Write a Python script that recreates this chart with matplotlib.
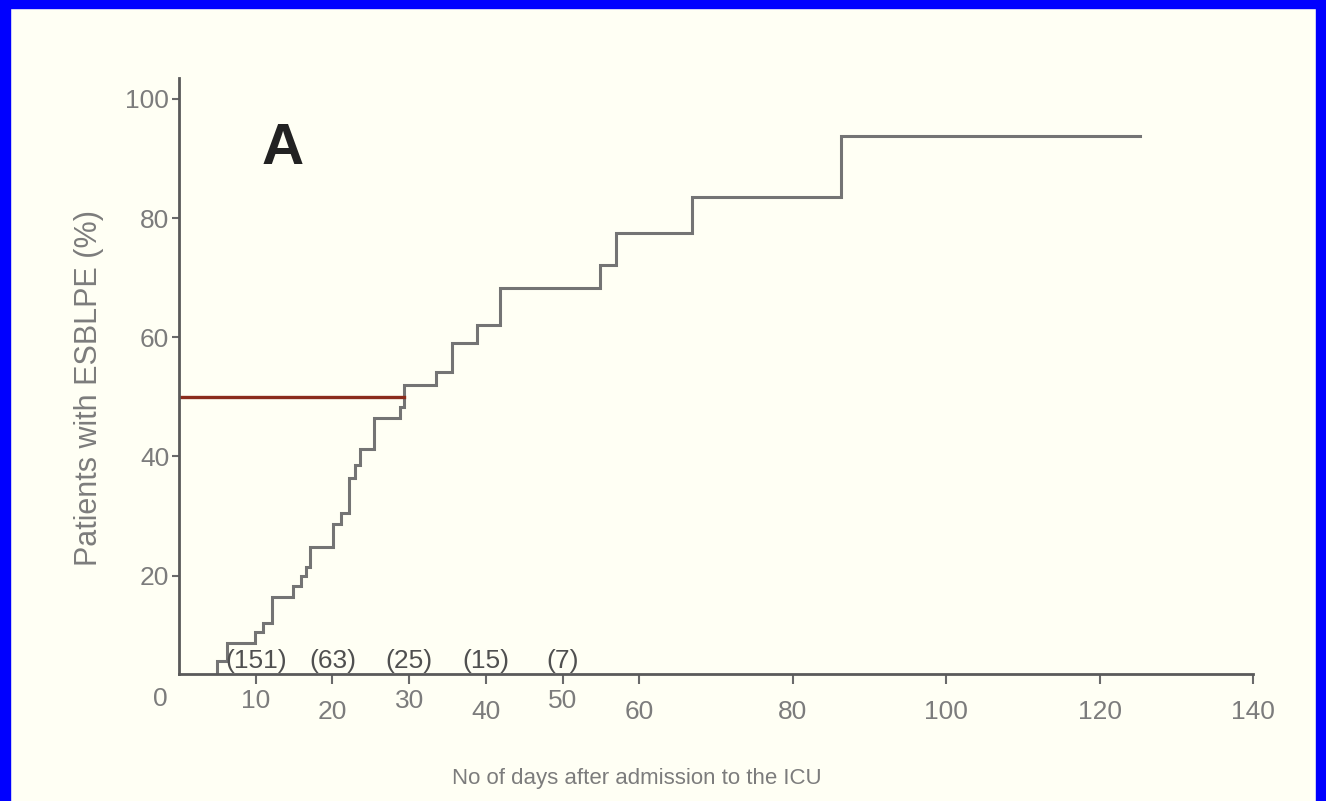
import matplotlib
matplotlib.use("Agg")
import matplotlib.pyplot as plt
from matplotlib.patches import Rectangle

plt.rcParams['font.family'] = ['Liberation Sans', 'DejaVu Sans']

# cumulative % of patients with ESBLPE, stepping up at these days
step_days = [0, 4.95, 6.3, 9.9, 11.0, 12.1, 14.9, 15.9, 16.6, 17.1, 20.1, 21.1,
             22.2, 22.9, 23.6, 25.4, 28.8, 29.3, 33.5, 35.6, 38.9, 41.9, 54.9,
             57.0, 66.9, 86.3, 125.2]
step_pct = [0, 5.7, 8.7, 10.6, 12.1, 16.4, 18.3, 20.0, 21.5, 24.8, 28.6, 30.5,
            36.4, 38.6, 41.3, 46.5, 48.3, 52.0, 54.2, 59.1, 62.1, 68.3, 72.1,
            77.5, 83.5, 93.8, 93.8]

# day at which half of the patients were colonised
median_day = 29.3
median_pct = 50

# patients still at risk
risk_days = [10, 20, 30, 40, 50]
risk_n = ['(151)', '(63)', '(25)', '(15)', '(7)']

x_major = [20, 40, 60, 80, 100, 120, 140]
x_minor = [10, 30, 50]
y_ticks = [20, 40, 60, 80, 100]

bg = '#fffff4'
grey = '#7c7c7c'

fig = plt.figure(figsize=(13.26, 8.01), dpi=100, facecolor=bg)
ax = fig.add_axes([0.1350, 0.1586, 0.8100, 0.7441], facecolor=bg)

ax.plot(step_days, step_pct, drawstyle='steps-post', color='#747474', lw=2.2,
        solid_joinstyle='miter')
ax.plot([0, median_day], [median_pct, median_pct], color='#8b2c1c', lw=2.4)

ax.set_xlim(0, 140)
ax.set_ylim(3.5, 103.5)

for s in ['top', 'right']:
    ax.spines[s].set_visible(False)
for s in ['left', 'bottom']:
    ax.spines[s].set_color('#5a5a5a')
    ax.spines[s].set_linewidth(2)

ax.set_xticks(x_major)
ax.set_xticks(x_minor, minor=True)
ax.set_xticklabels([str(v) for v in x_major])
ax.set_xticklabels([str(v) for v in x_minor], minor=True)
ax.tick_params(axis='x', which='major', length=7, width=1.5, color='#6a6a6a',
               pad=12, labelsize=19, labelcolor=grey)
ax.tick_params(axis='x', which='minor', length=7, width=1.5, color='#6a6a6a',
               pad=4, labelsize=19, labelcolor=grey)

ax.set_yticks(y_ticks)
ax.set_yticklabels([str(v) for v in y_ticks])
ax.tick_params(axis='y', length=5, width=1.5, color='#6a6a6a', pad=2,
               labelsize=19, labelcolor=grey)

ax.text(-0.017, -0.042, '0', transform=ax.transAxes, ha='center', va='center',
        fontsize=19, color=grey)

for d, n in zip(risk_days, risk_n):
    ax.text(d, 3.6, n, ha='center', va='bottom', fontsize=19, color='#505050')

ax.text(0.096, 0.88, 'A', transform=ax.transAxes, ha='center', va='center',
        fontsize=42, fontweight='bold', color='#222222')

ax.set_xlabel('No of days after admission to the ICU', fontsize=16, color=grey)
ax.xaxis.set_label_coords(0.426, -0.157)
ax.set_ylabel('Patients with ESBLPE (%)', fontsize=22, color=grey)
ax.yaxis.set_label_coords(-0.07, 0.48)

# blue frame around the scanned figure
for r in [(0, 0, 10 / 1326, 1), (1 - 10 / 1326, 0, 10 / 1326, 1),
          (0, 1 - 8 / 801, 1, 8 / 801)]:
    fig.patches.append(Rectangle(r[:2], r[2], r[3], transform=fig.transFigure,
                                 color='#0000ff', zorder=10))

fig.savefig('out.png', dpi=100, facecolor=bg)
